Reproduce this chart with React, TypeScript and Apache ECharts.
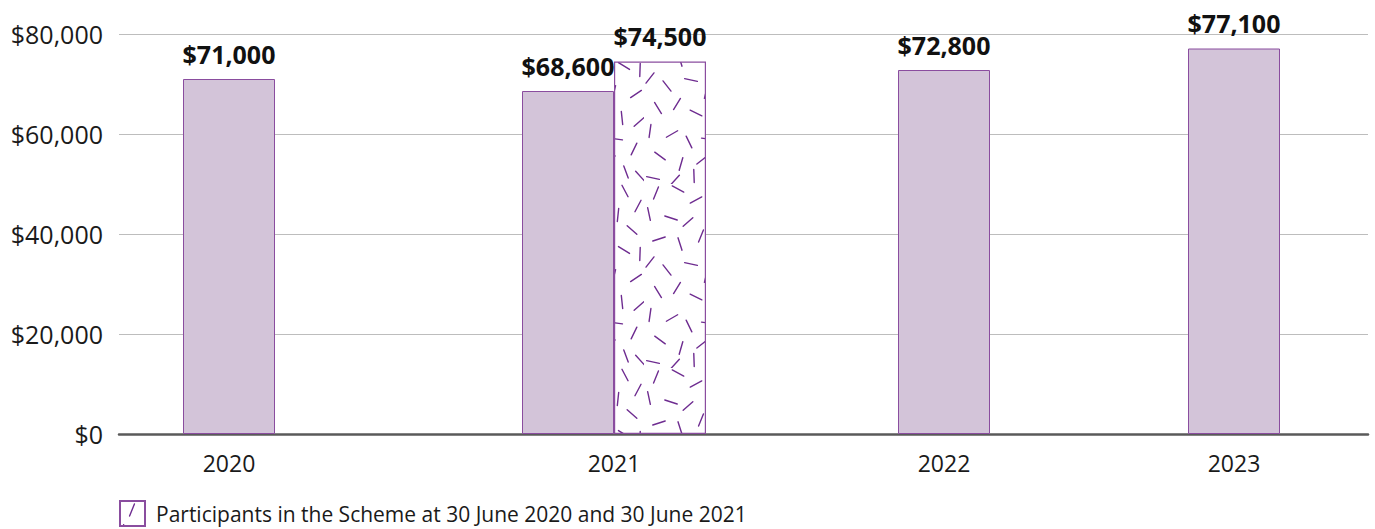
import React, { useEffect, useRef } from 'react';
import * as echarts from 'echarts';

// ---- data ----
const years = ['2020', '2021', '2022', '2023'];
const salaryValues = [71000, 68600, 72800, 77100];
const participantsYear = '2021';
const participantsValue = 74500;
const legendName = 'Participants in the Scheme at 30 June 2020 and 30 June 2021';
const yTickValues = [0, 20000, 40000, 60000, 80000];

// ---- layout (category slot centres along a px-unit x axis) ----
const slotCenters = [110, 495, 825, 1115];
const axisSpan = 1249;
const barW = 92;

const FONT = "'Open Sans', 'Noto Sans', sans-serif";
const FILL = '#d3c4d9';
const BORDER = '#8a4d9f';
const DASH = '#6e2c90';

// decorative texture (92 x 184 tile): [cx, cy, angleDeg]
const dashes: number[][] = [
  [12, 9, 112], [34, 5, 28], [52, 16, 152], [73, 7, 62], [86, 22, 118],
  [5, 30, 78], [27, 34, 18], [44, 38, 138], [66, 31, 96], [80, 46, 42],
  [15, 55, 162], [36, 60, 72], [57, 52, 112], [72, 66, 32], [88, 70, 92],
  [6, 78, 128], [23, 86, 52], [47, 80, 12], [62, 92, 104], [84, 94, 146],
  [14, 108, 58], [33, 104, 122], [52, 113, 26], [70, 118, 84], [87, 122, 138],
  [6, 131, 98], [28, 134, 150], [45, 142, 64], [64, 139, 8], [82, 149, 116],
  [16, 156, 36], [37, 164, 106], [58, 160, 142], [74, 172, 70], [9, 178, 12],
  [31, 180, 132], [50, 176, 88], [88, 176, 48],
];

function makeTexture(): HTMLCanvasElement {
  const c = document.createElement('canvas');
  c.width = 92;
  c.height = 184;
  const ctx = c.getContext('2d')!;
  ctx.fillStyle = '#ffffff';
  ctx.fillRect(0, 0, 92, 184);
  ctx.strokeStyle = DASH;
  ctx.lineWidth = 1.4;
  ctx.lineCap = 'round';
  const L = 6.5;
  dashes.forEach(([cx, cy, a]) => {
    const r = (a * Math.PI) / 180;
    const dx = Math.cos(r) * L;
    const dy = Math.sin(r) * L;
    ctx.beginPath();
    ctx.moveTo(cx - dx, cy - dy);
    ctx.lineTo(cx + dx, cy + dy);
    ctx.stroke();
  });
  return c;
}

const fmtMoney = (v: number) => '$' + v.toLocaleString('en-US');

export default function App() {
  const ref = useRef<HTMLDivElement>(null);
  useEffect(() => {
    if (!ref.current) return;
    const chart = echarts.init(ref.current, null, { renderer: 'svg' });
    const texture = makeTexture();
    const solidData = years.map((y, i) => [
      slotCenters[i] + (y === participantsYear ? -barW / 2 : 0),
      salaryValues[i],
    ]);
    const pIdx = years.indexOf(participantsYear);
    const patternData = [[slotCenters[pIdx] + barW / 2, participantsValue]];
    const labelStyle = {
      show: true,
      position: 'top' as const,
      distance: 13,
      fontFamily: FONT,
      fontWeight: 'bold' as const,
      fontSize: 25,
      color: '#111111',
      formatter: (p: any) => fmtMoney(p.value[1]),
    };
    chart.setOption({
      animation: false,
      grid: { left: 119, right: 7, top: 34, bottom: 95, containLabel: false },
      legend: {
        show: true,
        data: [{ name: legendName }],
        left: 114,
        top: 495,
        icon: 'rect',
        itemWidth: 25,
        itemHeight: 25,
        textStyle: { fontFamily: FONT, fontSize: 21, color: '#1a1a1a', padding: [0, 0, 0, 6] },
        selectedMode: false,
      },
      xAxis: {
        type: 'value',
        min: 0,
        max: axisSpan,
        splitLine: { show: false },
        axisTick: { show: false },
        axisLine: { show: true, onZero: true, lineStyle: { color: '#5a5a5a', width: 2.5 } },
        axisLabel: {
          customValues: slotCenters,
          formatter: (v: number) => {
            const i = slotCenters.indexOf(v);
            return i >= 0 ? years[i] : '';
          },
          fontFamily: FONT,
          fontSize: 23,
          color: '#1a1a1a',
          margin: 17,
        },
      },
      yAxis: {
        type: 'value',
        min: yTickValues[0],
        max: yTickValues[yTickValues.length - 1],
        interval: yTickValues[1] - yTickValues[0],
        axisLine: { show: false },
        axisTick: { show: false },
        splitLine: { show: true, lineStyle: { color: '#bdbdbd', width: 1 } },
        axisLabel: {
          formatter: (v: number) => fmtMoney(v),
          fontFamily: FONT,
          fontSize: 25,
          color: '#1a1a1a',
          margin: 16,
        },
      },
      series: [
        {
          name: 'Median',
          type: 'bar',
          data: solidData,
          barWidth: barW,
          barGap: '-100%',
          itemStyle: { color: FILL, borderColor: BORDER, borderWidth: 1 },
          label: labelStyle,
          z: 2,
        },
        {
          name: legendName,
          type: 'bar',
          data: patternData,
          barWidth: barW,
          barGap: '-100%',
          itemStyle: {
            color: { image: texture, repeat: 'repeat' },
            borderColor: BORDER,
            borderWidth: 1.2,
          },
          label: labelStyle,
          z: 2,
        },
      ],
    });
    return () => chart.dispose();
  }, []);
  return (
    <div
      ref={ref}
      style={{ position: 'fixed', left: 0, top: 0, width: 1375, height: 529, background: '#ffffff' }}
    />
  );
}
